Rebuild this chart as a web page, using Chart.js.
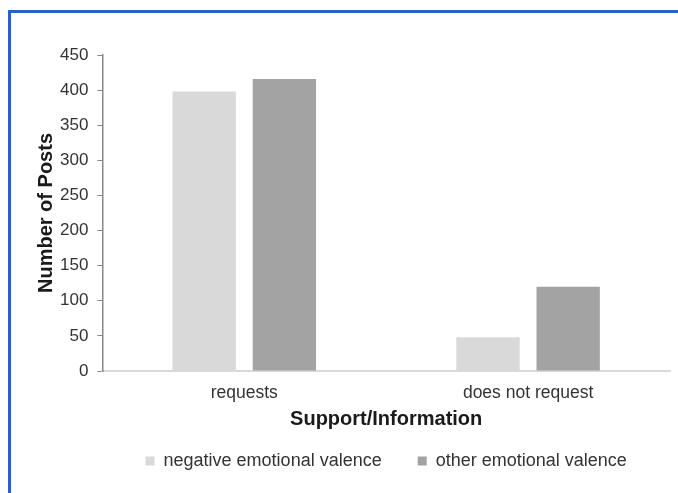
<!DOCTYPE html>
<html>
<head>
<meta charset="utf-8">
<script src="https://cdn.jsdelivr.net/npm/chart.js@4"></script>
<style>
  html, body { margin: 0; padding: 0; background: #fff; }
  #wrap { position: relative; width: 678px; height: 493px; overflow: hidden; }
  #frame {
    position: absolute; left: 8px; top: 10px; width: 720px; height: 540px;
    border-left: 3px solid #2b5fcc; border-top: 3px solid #2b5fcc;
  }
  #myChart { position: absolute; left: 0; top: 0; }
</style>
</head>
<body>
<div id="wrap">
  <div id="frame"></div>
  <canvas id="myChart" width="678" height="493"></canvas>
</div>
<script>
const categories = ['requests', 'does not request'];
const seriesNames = ['negative emotional valence', 'other emotional valence'];
const negativeValence = [398, 48];
const otherValence = [416, 120];
const yTicks = [0, 50, 100, 150, 200, 250, 300, 350, 400, 450];

const fontFamily = '"Liberation Sans", Arial, sans-serif';

const data = {
  labels: categories,
  datasets: [
    {
      label: seriesNames[0],
      data: negativeValence,
      backgroundColor: '#d9d9d9',
      categoryPercentage: 0.565,
      barPercentage: 0.79,
    },
    {
      label: seriesNames[1],
      data: otherValence,
      backgroundColor: '#a3a3a3',
      categoryPercentage: 0.565,
      barPercentage: 0.79,
    },
  ],
};

const config = {
  type: 'bar',
  data: data,
  options: {
    responsive: false,
    animation: false,
    layout: { padding: { left: 34, right: 8, top: 55, bottom: 13 } },
    plugins: {
      tooltip: { enabled: false },
      legend: {
        position: 'bottom',
        fullSize: false,
        labels: {
          boxWidth: 9,
          boxHeight: 9,
          padding: 36,
          color: '#333',
          font: { family: fontFamily, size: 18 },
        },
      },
    },
    scales: {
      x: {
        grid: { display: false },
        border: { display: true, color: '#d9d9d9', width: 2 },
        ticks: { color: '#333', font: { family: fontFamily, size: 17.5 }, padding: 4 },
        title: {
          display: true,
          text: 'Support/Information',
          color: '#1a1a1a',
          font: { family: fontFamily, size: 20, weight: 'bold' },
          padding: { top: -1, bottom: -15 },
        },
      },
      y: {
        min: 0,
        max: 450,
        afterBuildTicks: (axis) => {
          axis.ticks = yTicks.map((v) => ({ value: v }));
        },
        grid: {
          display: true,
          drawOnChartArea: false,
          tickLength: 5,
          color: '#888',
        },
        border: { display: true, color: '#888', width: 1.5 },
        ticks: { color: '#333', font: { family: fontFamily, size: 17 }, padding: 9 },
        title: {
          display: true,
          text: 'Number of Posts',
          color: '#1a1a1a',
          font: { family: fontFamily, size: 20, weight: 'bold' },
          padding: { top: 0, bottom: -7 },
        },
      },
    },
  },
};

const myChart = new Chart(document.getElementById('myChart'), config);
</script>
</body>
</html>
